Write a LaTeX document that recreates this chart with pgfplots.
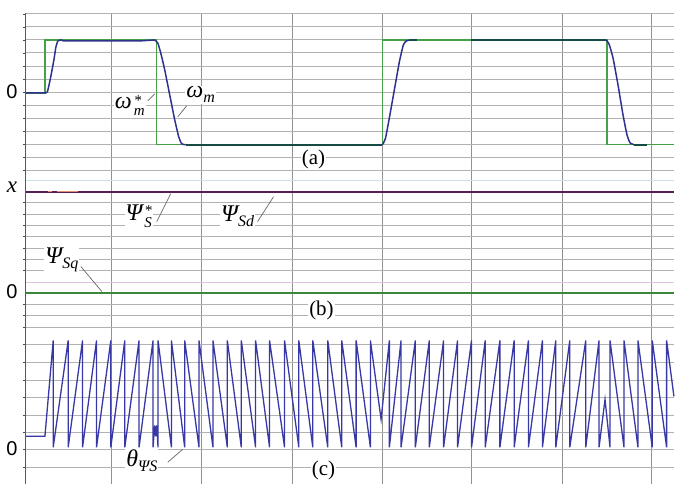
\documentclass[border=0pt]{standalone}
\usepackage{pgfplots}
\pgfplotsset{compat=1.18}
\usepackage{fontspec}
\setmainfont{Liberation Serif}
\newfontfamily\arial{Liberation Sans}
\definecolor{gridc}{RGB}{178,178,178}
\definecolor{vgridc}{RGB}{145,145,145}
\definecolor{refgreen}{RGB}{70,160,70}
\definecolor{navy}{RGB}{45,50,140}
\definecolor{sawblue}{RGB}{55,55,165}
\definecolor{fluxpurple}{RGB}{85,30,85}
\definecolor{lightblue}{RGB}{200,225,235}
\definecolor{lightpink}{RGB}{225,195,225}
\definecolor{salmon}{RGB}{230,140,110}
\newcommand{\lab}[1]{\fontsize{24}{26}\selectfont\itshape #1}
\newcommand{\sub}[1]{\raisebox{-5pt}{\fontsize{16}{17}\selectfont\itshape #1}}
\newcommand{\supsub}[2]{\kern2pt\raisebox{-7pt}{\fontsize{15}{19}\selectfont\itshape\shortstack[l]{#1\\#2}}}
\begin{document}
\begin{tikzpicture}
\begin{axis}[
  scale only axis, width=649pt, height=471.5pt,
  xmin=26, xmax=675, ymin=13.5, ymax=485, y dir=reverse,
  clip=false,
  axis line style={draw=none},
  xtick={112,202,293,383,472,563,653},
  ytick={14,27,40,53,67,80,93,106,119,132,145,158,171,203,215,226,237,249,260,271,305,316,328,345,363,381,398,416,433,450,468},
  xticklabels={}, yticklabels={},
  xmajorgrids, ymajorgrids,
  x grid style={vgridc, line width=1pt},
  y grid style={gridc, line width=1pt},
  xtick style={draw=none},
  ytick pos=left, tick align=outside, major tick length=2.5pt,
  ytick style={black!70, line width=0.8pt},
]
% light reference lines in panel (b)
\addplot[lightblue, line width=1pt] coordinates {(26,181) (675,181)};
\addplot[lightpink, line width=1pt] coordinates {(26,283) (675,283)};
% panel (a): reference speed
\addplot[refgreen, line width=1.3pt] coordinates {
(26,93) (45,93) (45,40) (157,40) (157,145) (383,145) (383,40) (608,40) (608,145) (675,145)};
% panel (a): measured speed
\addplot[navy, line width=1.5pt, smooth, tension=0.3] coordinates {
(26,93) (46,93) (48,90) (51,76) (54,60) (56,47) (58,41) (61,40)};
\addplot[navy, line width=1.5pt] coordinates {(61,40) (64,41) (140,41) (155,40)};
\addplot[navy, line width=1.5pt, smooth, tension=0.3] coordinates {
(155,40) (158,43) (161,53) (165,70) (170,95) (175,120) (179,137) (182,144) (186,145)};
\addplot[navy!60!black!80!green, line width=1.5pt] coordinates {(186,145) (383,145)};
\addplot[navy, line width=1.5pt, smooth, tension=0.3] coordinates {
(383,145) (386,139) (390,118) (395,90) (400,62) (404,45) (407,41) (411,40)};
\addplot[navy!60!black!80!green, line width=1.5pt] coordinates {(411,40) (418,40)};
\addplot[navy!60!black!80!green, line width=1.5pt] coordinates {(472,40) (607,40)};
\addplot[navy, line width=1.5pt, smooth, tension=0.3] coordinates {
(607,40) (610,44) (614,58) (619,85) (624,115) (628,135) (631,143) (635,145)};
\addplot[navy!60!black!80!green, line width=1.5pt] coordinates {(635,145) (648,145)};
% panel (b)
\addplot[fluxpurple, line width=2.2pt] coordinates {(26,192) (675,192)};
\addplot[salmon, line width=1pt] coordinates {(48,192) (52,192)};
\addplot[salmon, line width=1pt] coordinates {(57,192) (78,192)};
\addplot[refgreen!85!black, line width=2pt] coordinates {(26,293) (675,293)};
% panel (c): flux angle
\addplot[sawblue, line width=1.3pt] coordinates {
(26,437) (45,437) (53.3,341) (53.3,448) (68.3,341) (68.3,448) (82.7,341) (82.7,448)
(96.7,341) (96.7,448) (111,341) (111,448) (125,341) (125,448) (139.3,341) (139.3,448)
(153.3,341) (153.3,448) (155,426) (156,437) (157,426) (158.3,448)
(158.3,341) (171.7,448) (171.7,341) (185,448) (185,341) (199.3,448) (199.3,341)
(213.3,448) (213.3,341) (227.7,448) (227.7,341) (241.7,448) (241.7,341) (256,448)
(256,341) (270,448) (270,341) (285,448) (285,341) (299.3,448) (299.3,341) (313.3,448)
(313.3,341) (328.3,448) (328.3,341) (342.3,448) (342.3,341) (356.7,448) (356.7,341)
(371,448) (371,341) (381.7,420) (390,341) (390,448) (401.7,341) (401.7,448)
(416,341) (416,448) (430,341) (430,448) (444.3,341) (444.3,448) (458.3,341) (458.3,448)
(472.3,341) (472.3,448) (486,341) (486,448) (500.7,341) (500.7,448) (515,341) (515,448)
(529.3,341) (529.3,448) (543.3,341) (543.3,448) (556.7,341) (556.7,448) (570.7,341)
(570.7,448) (586.7,341) (586.7,448) (600,341) (600,448) (606,400) (611,448)
(611,341) (625,448) (625,341) (639,448) (639,341) (653.3,448) (653.3,341) (667.7,448)
(667.7,341) (675,397)};
% left axis line
\draw[black!65, line width=1pt] (axis cs:26,13.5) -- (axis cs:26,485);
% bounding box of the whole picture
\path (axis cs:0,0) rectangle (axis cs:675,485);
% axis value labels
\node[font=\arial\fontsize{20}{22}\selectfont] at (axis cs:12,92) {0};
\node[font=\fontsize{23}{24}\selectfont\itshape] at (axis cs:12,188) {x};
\node[font=\arial\fontsize{20}{22}\selectfont] at (axis cs:12,292) {0};
\node[font=\arial\fontsize{20}{22}\selectfont] at (axis cs:12,449) {0};
% panel labels
\node[font=\fontsize{21}{24}\selectfont, fill=white, inner sep=1pt] at (axis cs:314,160) {(a)};
\node[font=\fontsize{21}{24}\selectfont, fill=white, inner sep=1pt] at (axis cs:322,311) {(b)};
\node[font=\fontsize{21}{24}\selectfont, fill=white, inner sep=1pt] at (axis cs:324,471) {(c)};
% curve names with leader lines
\node[fill=white, inner sep=1pt] at (axis cs:130,106) {\lab{ω\supsub{*}{m}}};
\draw[black!60, line width=0.7pt] (axis cs:148,101) -- (axis cs:155,94);
\node[fill=white, inner sep=1pt] at (axis cs:201,95) {\lab{ω\sub{m}}};
\draw[black!60, line width=0.7pt] (axis cs:187,106) -- (axis cs:178,117);
\node[fill=white, inner sep=1pt] at (axis cs:139,217) {\lab{Ψ\supsub{*}{S}}};
\draw[black!60, line width=0.7pt] (axis cs:157,222) -- (axis cs:171,194);
\node[fill=white, inner sep=1pt] at (axis cs:238,217) {\lab{Ψ\sub{Sd}}};
\draw[black!60, line width=0.7pt] (axis cs:258,222) -- (axis cs:274,197);
\node[fill=white, inner sep=1pt] at (axis cs:62,260) {\lab{Ψ\sub{Sq}}};
\draw[black!60, line width=0.7pt] (axis cs:81,267) -- (axis cs:102,292);
\node[fill=white, inner sep=1pt] at (axis cs:142,461) {\lab{θ\sub{ΨS}}};
\draw[black!60, line width=0.7pt] (axis cs:168,463) -- (axis cs:183,450);
\end{axis}
\end{tikzpicture}
\end{document}
